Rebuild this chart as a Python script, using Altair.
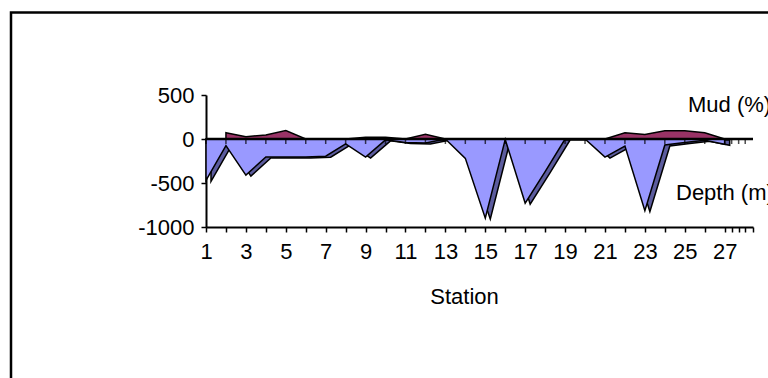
import altair as alt
import pandas as pd

stations = list(range(1, 28))
depth = [-470, -75, -410, -205, -205, -205, -195, -55, -205, -10, -40, -45, 0,
         -220, -900, -5, -730, -370, 0, 0, -205, -80, -815, -68, -40, -15, -60]
mud = [None, 72, 26, 45, 95, 0, 0, 0, 20, 20, 0, 53, 0, 0, 0, 0, 0, 0, 0, 0,
       0, 70, 50, 95, 95, 72, 0]
tick_values = stations + [27.35, 27.7, 28.03, 28.42]
label_names = ["Mud (%)", "Depth (m)"]
label_x = [25.16, 24.56]
label_y = [307, -693]

df = pd.DataFrame({"Station": stations, "Depth": depth, "Mud": mud})
ticks_df = pd.DataFrame({"Station": tick_values[:-1]})
labels_df = pd.DataFrame({"name": label_names, "x": label_x, "y": label_y})

FONT = "Liberation Sans"
FS = 22
xscale = alt.Scale(domain=[1, 28.42], nice=False, zero=False)
yscale = alt.Scale(domain=[-1000, 500], nice=False)

xaxis = alt.Axis(
    values=tick_values,
    labelExpr="(datum.value % 2 == 1 && datum.value <= 27) ? '' + datum.value : ''",
    grid=False, tickSize=5, tickWidth=1.5, tickColor="black",
    domainColor="black", domainWidth=2, labelFontSize=FS, labelFont=FONT,
    labelColor="black", labelPadding=9, labelFlush=False, labelOverlap=False,
    labelBound=False,
    title="Station", titleFont=FONT, titleFontSize=FS, titleFontWeight="normal",
    titleColor="black", titleX=258, titleY=76, titleBaseline="alphabetic",
    titleAlign="center", titleAnchor="start",
)
yaxis = alt.Axis(
    values=[500, 0, -500, -1000], grid=False, tickSize=5, tickWidth=1.5,
    labelExpr="'' + datum.value", labelOverlap=False,
    tickColor="black", domainColor="black", domainWidth=2, labelFontSize=FS,
    labelFont=FONT, labelColor="black", labelPadding=7, title=None,
)

base = alt.Chart(df)

frame = alt.Chart(pd.DataFrame({"a": [0]})).mark_rect(
    fill="transparent", stroke="black", strokeWidth=2.5, clip=False
).encode(
    x=alt.value(-195), x2=alt.value(700), y=alt.value(-82.5), y2=alt.value(400)
)

X = lambda f: alt.X(f, scale=xscale, axis=xaxis)
Y = lambda f: alt.Y(f, scale=yscale, axis=yaxis)

mud_area = base.mark_area(
    color="#993366", stroke="black", strokeWidth=1.5, strokeJoin="miter"
).encode(x=X("Station:Q"), y=Y("Mud:Q"), y2=alt.datum(0))

depth_side = base.mark_area(
    color="#5C5C9E", stroke="black", strokeWidth=1.5, xOffset=5, yOffset=1,
    y2Offset=1,
).encode(x=X("Station:Q"), y=Y("Depth:Q"), y2=alt.datum(0))

depth_front = base.mark_area(
    color="#9999FF", stroke="black", strokeWidth=1.5,
).encode(x=X("Station:Q"), y=Y("Depth:Q"), y2=alt.datum(0))

zero_rule = alt.Chart(pd.DataFrame({"z": [0]})).mark_rule(
    color="black", strokeWidth=2.5
).encode(y=Y("z:Q"))

zero_ticks = alt.Chart(ticks_df.assign(z=0)).mark_tick(
    color="black", orient="vertical", size=6, thickness=1.5, yOffset=2
).encode(x=X("Station:Q"), y=Y("z:Q"))

labels = alt.Chart(labels_df).mark_text(
    font=FONT, fontSize=FS, align="left", baseline="alphabetic",
    color="black", clip=False,
).encode(x=X("x:Q"), y=Y("y:Q"), text="name:N")

chart = alt.layer(
    frame, mud_area, depth_side, depth_front, zero_rule, zero_ticks, labels
).properties(
    width=547, height=132,
    autosize=alt.AutoSizeParams(type="none"),
    padding={"left": 206, "top": 95, "right": 15, "bottom": 151},
    background="white",
).configure_view(stroke=None).configure_axis(labelOverlap=False)

chart.save("out.html", embed_options={"renderer": "svg", "actions": False})
